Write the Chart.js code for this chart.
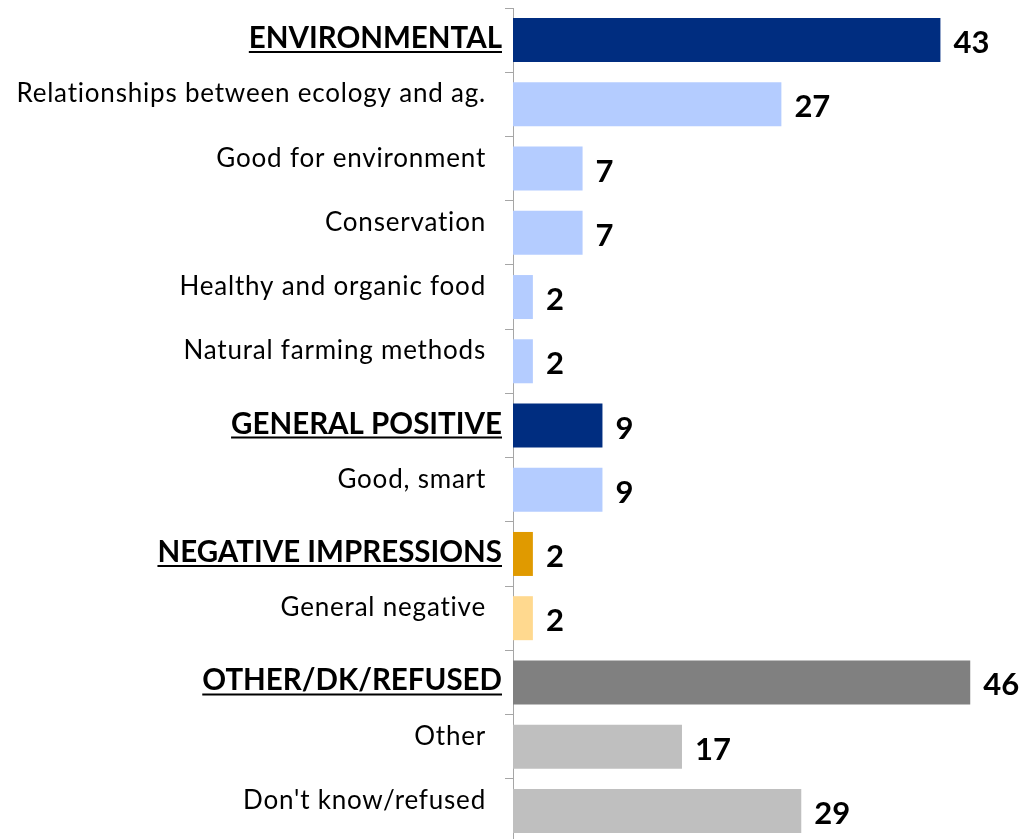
<!DOCTYPE html>
<html>
<head>
<meta charset="utf-8">
<script src="https://cdn.jsdelivr.net/npm/chart.js@4.4.1/dist/chart.umd.min.js"></script>
<style>
  html, body { margin: 0; padding: 0; overflow: hidden; background: #fff; }
  #wrap { position: relative; width: 1024px; height: 843px; }
</style>
</head>
<body>
<div id="wrap"><canvas id="chart"></canvas></div>
<script>
const categories = [
  "ENVIRONMENTAL",
  "Relationships between ecology and ag.",
  "Good for environment",
  "Conservation",
  "Healthy and organic food",
  "Natural farming methods",
  "GENERAL POSITIVE",
  "Good, smart",
  "NEGATIVE IMPRESSIONS",
  "General negative",
  "OTHER/DK/REFUSED",
  "Other",
  "Don't know/refused"
];
const values = [43, 27, 7, 7, 2, 2, 9, 9, 2, 2, 46, 17, 29];
const isHeader = [true, false, false, false, false, false, true, false, true, false, true, false, false];
const groups = ["env", "env", "env", "env", "env", "env", "pos", "pos", "neg", "neg", "oth", "oth", "oth"];

const palette = {
  env: { head: "#002D80", sub: "#B4CCFF" },
  pos: { head: "#002D80", sub: "#B4CCFF" },
  neg: { head: "#E09A00", sub: "#FFD98F" },
  oth: { head: "#808080", sub: "#BFBFBF" }
};
const barColors = groups.map((g, i) => isHeader[i] ? palette[g].head : palette[g].sub);

const FONT = "Lato, 'Open Sans', sans-serif";

// draws category labels (headers underlined) and value labels
const labelPlugin = {
  id: "labels",
  afterDatasetsDraw(chart) {
    const ctx = chart.ctx;
    const yScale = chart.scales.y;
    const xScale = chart.scales.x;
    const axisX = yScale.right;
    ctx.save();
    ctx.fillStyle = "#000";
    ctx.strokeStyle = "#000";
    categories.forEach((cat, i) => {
      const y = yScale.getPixelForValue(i);
      ctx.textAlign = "right";
      ctx.textBaseline = "alphabetic";
      if (isHeader[i]) {
        ctx.letterSpacing = "0px";
        ctx.font = "bold 29.5px " + FONT;
        const xr = axisX - 11;
        const base = y + 8;
        ctx.fillText(cat, xr, base);
        const w = ctx.measureText(cat).width;
        ctx.lineWidth = 2;
        ctx.beginPath();
        ctx.moveTo(xr - w, base + 4);
        ctx.lineTo(xr, base + 4);
        ctx.stroke();
      } else {
        ctx.font = "26px " + FONT;
        ctx.letterSpacing = "0.8px";
        ctx.fillText(cat, axisX - 27, y - 2);
        ctx.letterSpacing = "0px";
      }
      ctx.font = "bold 31px " + FONT;
      ctx.textAlign = "left";
      ctx.textBaseline = "middle";
      ctx.fillText(String(values[i]), xScale.getPixelForValue(values[i]) + 13, y + 3);
    });
    ctx.restore();
  }
};

new Chart(document.getElementById("chart"), {
  type: "bar",
  data: {
    labels: categories,
    datasets: [{
      data: values,
      backgroundColor: barColors,
      borderWidth: 0,
      barPercentage: 0.685,
      categoryPercentage: 1
    }]
  },
  options: {
    indexAxis: "y",
    responsive: true,
    maintainAspectRatio: false,
    animation: false,
    layout: { padding: { top: 8, right: 14, left: 0, bottom: 0 } },
    plugins: { legend: { display: false }, tooltip: { enabled: false } },
    scales: {
      x: { display: false, min: 0, max: 50 },
      y: {
        ticks: { display: false },
        grid: { drawOnChartArea: false, drawTicks: true, tickLength: 8, color: "#A6A6A6", offset: true },
        border: { display: true, color: "#A6A6A6", width: 1 },
        afterFit(scale) { scale.width = 513; }
      }
    }
  },
  plugins: [labelPlugin]
});
</script>
</body>
</html>
